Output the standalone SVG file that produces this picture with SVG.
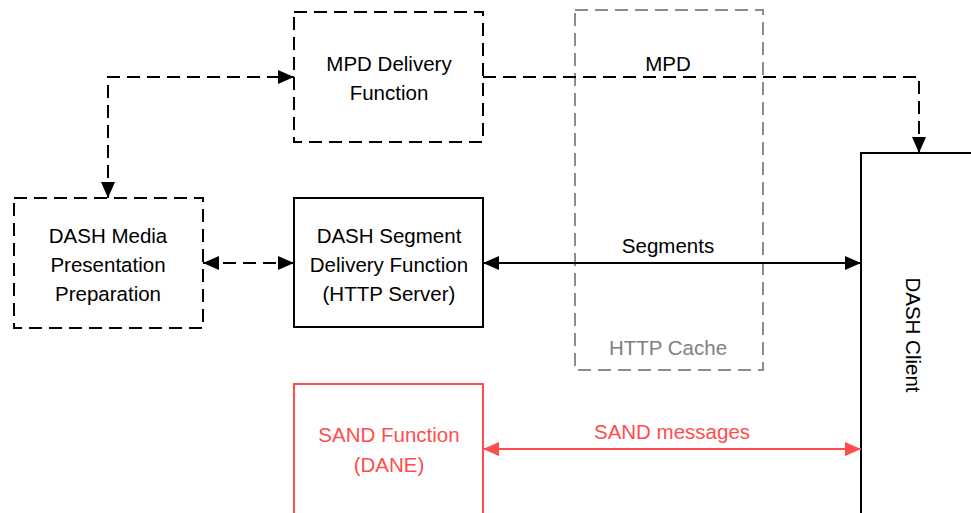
<svg xmlns="http://www.w3.org/2000/svg" width="971" height="513" viewBox="0 0 971 513">
<style>
text{font-family:"Liberation Sans",Arial,sans-serif;font-size:20.5px;text-anchor:middle;fill:#000}
.box{fill:none;stroke:#000;stroke-width:2}
.dash{stroke-dasharray:13 7}
.cache{fill:none;stroke:#8c8c8c;stroke-width:2;stroke-dasharray:13 7}
.con{fill:none;stroke:#000;stroke-width:2}
.box.red,.con.red{stroke:#ff4d4d}
text.redt{fill:#ff4d4d}
text.gray{fill:#808080}
</style>
<defs>
<marker id="a" viewBox="0 0 16 14" refX="16" refY="7" markerWidth="16" markerHeight="14" markerUnits="userSpaceOnUse" orient="auto-start-reverse"><path d="M0,0L16,7L0,14Z" fill="#000"/></marker>
<marker id="r" viewBox="0 0 16 14" refX="16" refY="7" markerWidth="16" markerHeight="14" markerUnits="userSpaceOnUse" orient="auto-start-reverse"><path d="M0,0L16,7L0,14Z" fill="#ff4d4d"/></marker>
</defs>
<g id="cache"><rect class="cache" x="575" y="10" width="188" height="360"/><text class="gray" x="668" y="355">HTTP Cache</text></g>
<g id="mpd"><rect class="box dash" x="294" y="12" width="189" height="130"/><text x="389" y="71">MPD Delivery</text><text x="389" y="100">Function</text></g>
<g id="prep"><rect class="box dash" x="14" y="198" width="189" height="130"/><text x="108" y="243">DASH Media</text><text x="108" y="272">Presentation</text><text x="108" y="301">Preparation</text></g>
<g id="seg"><rect class="box" x="294" y="198" width="189" height="129"/><text x="389" y="243">DASH Segment</text><text x="389" y="272">Delivery Function</text><text x="389" y="301">(HTTP Server)</text></g>
<g id="sand"><rect class="box red" x="294" y="384" width="189" height="140"/><text class="redt" x="389" y="442">SAND Function</text><text class="redt" x="389" y="472">(DANE)</text></g>
<g id="client"><rect class="box" x="861" y="153" width="120" height="370"/><text x="0" y="0" transform="translate(906,335) rotate(90)">DASH Client</text></g>
<g id="connectors">
<path class="con dash" d="M108,198V77H294" marker-start="url(#a)" marker-end="url(#a)"/>
<path class="con dash" d="M483,77H919V153" marker-end="url(#a)"/>
<text x="668" y="71">MPD</text>
<path class="con dash" d="M203,263H294" marker-start="url(#a)" marker-end="url(#a)"/>
<path class="con" d="M483,263H861" marker-start="url(#a)" marker-end="url(#a)"/>
<text x="668" y="253">Segments</text>
<path class="con red" d="M483,449H861" marker-start="url(#r)" marker-end="url(#r)"/>
<text class="redt" x="672" y="439">SAND messages</text>
</g>
</svg>
